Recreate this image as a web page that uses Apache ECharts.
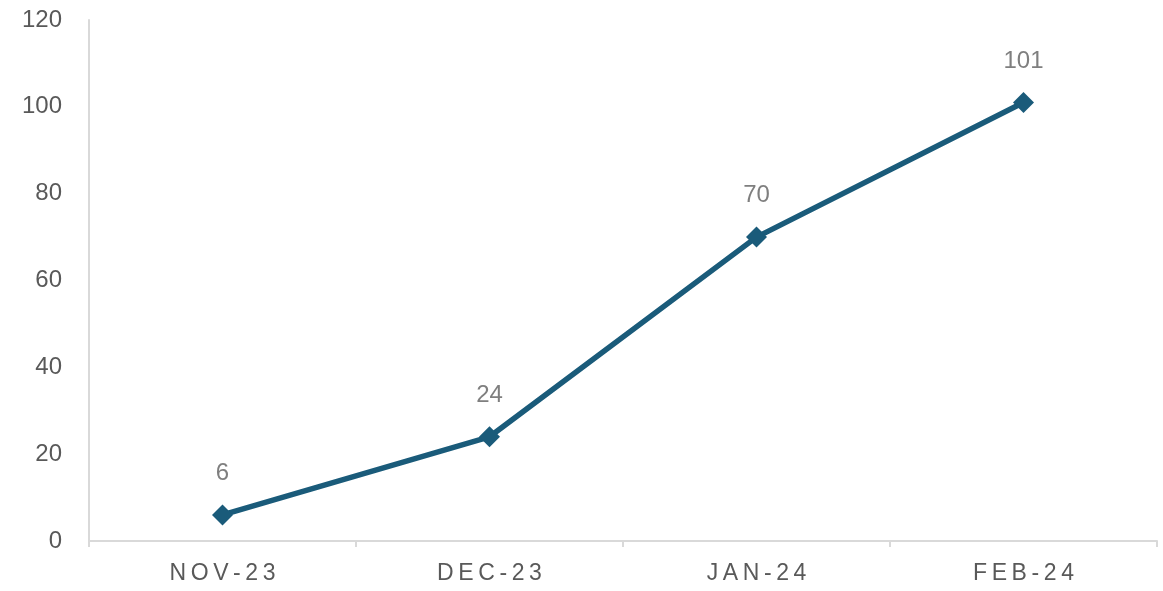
<!DOCTYPE html>
<html>
<head>
<meta charset="utf-8">
<script src="https://cdn.jsdelivr.net/npm/echarts@6/dist/echarts.min.js"></script>
<style>
html,body{margin:0;padding:0;background:#fff;}
#chart{width:1163px;height:591px;}
</style>
</head>
<body>
<div id="chart"></div>
<script>
const categories = ['NOV-23', 'DEC-23', 'JAN-24', 'FEB-24'];
const values = [6, 24, 70, 101];
const yTicks = [0, 20, 40, 60, 80, 100, 120];

const chart = echarts.init(document.getElementById('chart'));
const spaced = s => s.split('').join('\u2009');
chart.setOption({
  animation: false,
  grid: { left: 89, right: 6, top: 20, bottom: 50, containLabel: false },
  xAxis: {
    type: 'category',
    data: categories,
    boundaryGap: true,
    axisLine: { show: true, lineStyle: { color: '#d9d9d9', width: 2 } },
    axisTick: { show: true, length: 6, lineStyle: { color: '#d9d9d9', width: 2 } },
    axisLabel: {
      color: '#595959', fontSize: 23, fontFamily: 'Liberation Sans, Arial, sans-serif',
      margin: 21, formatter: v => spaced(v)
    },
    splitLine: { show: false }
  },
  yAxis: {
    type: 'value',
    min: yTicks[0], max: yTicks[yTicks.length - 1], interval: 20,
    axisLine: { show: true, lineStyle: { color: '#d9d9d9', width: 2 } },
    axisTick: { show: false },
    axisLabel: { color: '#595959', fontSize: 24, fontFamily: 'Liberation Sans, Arial, sans-serif', margin: 27 },
    splitLine: { show: false }
  },
  series: [{
    type: 'line',
    data: values,
    symbol: 'diamond',
    symbolSize: 21,
    showAllSymbol: true,
    lineStyle: { color: '#1a5b7a', width: 5.5 },
    itemStyle: { color: '#1a5b7a' },
    label: {
      show: true, position: 'top', distance: 19,
      color: '#7f7f7f', fontSize: 24, fontFamily: 'Liberation Sans, Arial, sans-serif'
    }
  }]
});
</script>
</body>
</html>
